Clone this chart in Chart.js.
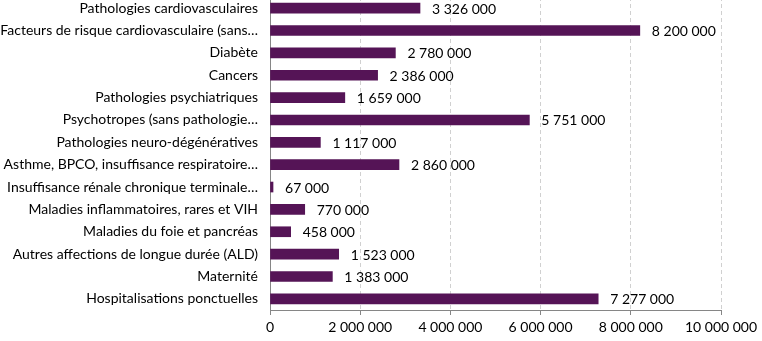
<!DOCTYPE html>
<html>
<head>
<meta charset="utf-8">
<script src="https://cdn.jsdelivr.net/npm/chart.js@4"></script>
<style>
  html, body { margin: 0; padding: 0; background: #fff; overflow: hidden; }
  #wrap { position: absolute; left: 0; top: -3px; width: 762px; height: 344px; }
</style>
</head>
<body>
<div id="wrap"><canvas id="chart"></canvas></div>
<script>
let categories = [
  'Pathologies cardiovasculaires',
  'Facteurs de risque cardiovasculaire (sans…',
  'Diabète',
  'Cancers',
  'Pathologies psychiatriques',
  'Psychotropes (sans pathologie…',
  'Pathologies neuro-dégénératives',
  'Asthme, BPCO, insuffisance respiratoire…',
  'Insuffisance rénale chronique terminale…',
  'Maladies inflammatoires, rares et VIH',
  'Maladies du foie et pancréas',
  'Autres affections de longue durée (ALD)',
  'Maternité',
  'Hospitalisations ponctuelles'
];
let patients = [3326000, 8200000, 2780000, 2386000, 1659000, 5751000, 1117000,
                2860000, 67000, 770000, 458000, 1523000, 1383000, 7277000];
let xTicks = [0, 2000000, 4000000, 6000000, 8000000, 10000000];

function spaced(n) {
  return String(n).replace(/\B(?=(\d{3})+(?!\d))/g, ' ');
}

let fontFamily = 'Lato, "Open Sans", sans-serif';

// value labels at the end of each bar
let barLabels = {
  id: 'barLabels',
  afterDatasetsDraw(chart) {
    let ctx = chart.ctx;
    let meta = chart.getDatasetMeta(0);
    ctx.save();
    ctx.font = '14px ' + fontFamily;
    ctx.fillStyle = '#000';
    ctx.textAlign = 'left';
    ctx.textBaseline = 'middle';
    meta.data.forEach(function(bar, i) {
      ctx.fillText(spaced(patients[i]), bar.x + 12, bar.y + 1);
    });
    ctx.restore();
  }
};

new Chart('chart', {
  type: 'bar',
  data: {
    labels: categories,
    datasets: [{
      data: patients,
      backgroundColor: '#551456',
      barThickness: 10
    }]
  },
  options: {
    indexAxis: 'y',
    responsive: true,
    maintainAspectRatio: false,
    animation: false,
    layout: { padding: { left: 0, right: 41, top: 0, bottom: 0 } },
    plugins: { legend: { display: false }, tooltip: { enabled: false } },
    scales: {
      x: {
        min: 0,
        max: 10000000,
        afterBuildTicks: function(s) { s.ticks = xTicks.map(v => ({ value: v })); },
        afterFit: function(s) { s.height = 31; },
        grid: { color: '#d0d0d0', tickColor: '#868686', tickLength: 5, tickBorderDash: [], drawTicks: true },
        border: { color: '#868686', dash: [4, 3] },
        ticks: {
          color: '#000',
          padding: 4,
          maxRotation: 0,
          font: { family: fontFamily, size: 14 },
          callback: function(v) { return spaced(v); }
        }
      },
      y: {
        afterFit: function(s) { s.width = 270; s.paddingTop = 0; s.paddingBottom = 0; },
        grid: { display: false, drawTicks: false },
        border: { color: '#868686' },
        ticks: {
          color: '#000',
          padding: 12,
          autoSkip: false,
          font: { family: fontFamily, size: 14 }
        }
      }
    }
  },
  plugins: [barLabels]
});
</script>
</body>
</html>
